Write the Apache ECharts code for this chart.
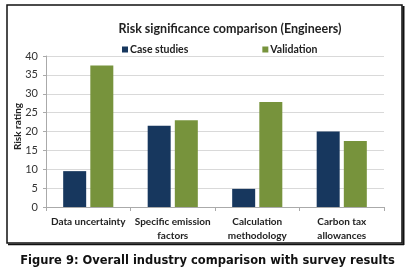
<!DOCTYPE html>
<html>
<head>
<meta charset="utf-8">
<script src="https://cdn.jsdelivr.net/npm/echarts@6/dist/echarts.min.js"></script>
<style>
html, body { margin: 0; padding: 0; background: #fff; }
#chart { width: 415px; height: 276px; }
</style>
</head>
<body>
<div id="chart"></div>
<script>
var categories = ['Data uncertainty', 'Specific emission\nfactors', 'Calculation\nmethodology', 'Carbon tax\nallowances']
var caseStudies = [9.5, 21.5, 4.8, 20]
var validation = [37.5, 23, 27.8, 17.5]
var yTicks = [0, 5, 10, 15, 20, 25, 30, 35, 40]

var myChart = echarts.init(document.getElementById('chart'))

var font = 'Lato, "Open Sans", sans-serif'

var option = {
    animation: false,
    backgroundColor: '#fff',
    title: {
        text: 'Risk significance comparison (Engineers)',
        left: 225,
        top: 17,
        textAlign: 'center',
        textStyle: { fontFamily: font, fontSize: 12.5, fontWeight: 'bold', color: '#222' }
    },
    legend: {
        top: 39,
        left: 117,
        itemGap: 74,
        itemWidth: 6,
        itemHeight: 6,
        icon: 'rect',
        textStyle: { fontFamily: font, fontSize: 10.5, fontWeight: 'bold', color: '#222', padding: [0, 0, 0, -3] },
        data: ['Case studies', 'Validation']
    },
    grid: { left: 46, right: 31, top: 56, bottom: 69 },
    xAxis: {
        type: 'category',
        data: categories,
        axisLine: { lineStyle: { color: '#aaa' } },
        axisTick: { show: true, length: 4, lineStyle: { color: '#aaa' } },
        axisLabel: { fontFamily: font, fontSize: 10, fontWeight: 'bold', color: '#222', interval: 0, lineHeight: 14, margin: 8 }
    },
    yAxis: {
        type: 'value',
        min: yTicks[0],
        max: yTicks[yTicks.length - 1],
        interval: 5,
        name: 'Risk rating',
        nameLocation: 'middle',
        nameGap: 23,
        nameMoveOverlap: false,
        nameTextStyle: { fontFamily: font, fontSize: 10, fontWeight: 'bold', color: '#222', padding: [0, 0, 0, 10] },
        axisLine: { show: true, lineStyle: { color: '#aaa' } },
        axisTick: { show: true, length: 3, lineStyle: { color: '#aaa' } },
        axisLabel: { fontFamily: font, fontSize: 11, color: '#333', margin: 8 },
        splitLine: { lineStyle: { color: '#d9d9d9' } }
    },
    series: [
        {
            name: 'Case studies',
            type: 'bar',
            data: caseStudies,
            barWidth: 23,
            barGap: '18%',
            itemStyle: { color: '#17375E' }
        },
        {
            name: 'Validation',
            type: 'bar',
            data: validation,
            barWidth: 23,
            itemStyle: { color: '#77933C' }
        }
    ],
    graphic: [
        {
            type: 'rect',
            shape: { x: 7, y: 5, width: 395, height: 238 },
            style: { fill: 'none', stroke: '#111', lineWidth: 1.5 },
            z: 100
        },
        {
            type: 'line',
            shape: { x1: 403.5, y1: 6, x2: 403.5, y2: 245 },
            style: { stroke: '#111', lineWidth: 2 },
            z: 100
        },
        {
            type: 'line',
            shape: { x1: 8, y1: 244.5, x2: 404, y2: 244.5 },
            style: { stroke: '#111', lineWidth: 1.5 },
            z: 100
        },
        {
            type: 'text',
            left: 'center',
            top: 255,
            style: {
                text: 'Figure 9: Overall industry comparison with survey results',
                font: 'bold 11.5px "DejaVu Sans", sans-serif',
                fill: '#111'
            }
        }
    ]
}

myChart.setOption(option)
</script>
</body>
</html>
